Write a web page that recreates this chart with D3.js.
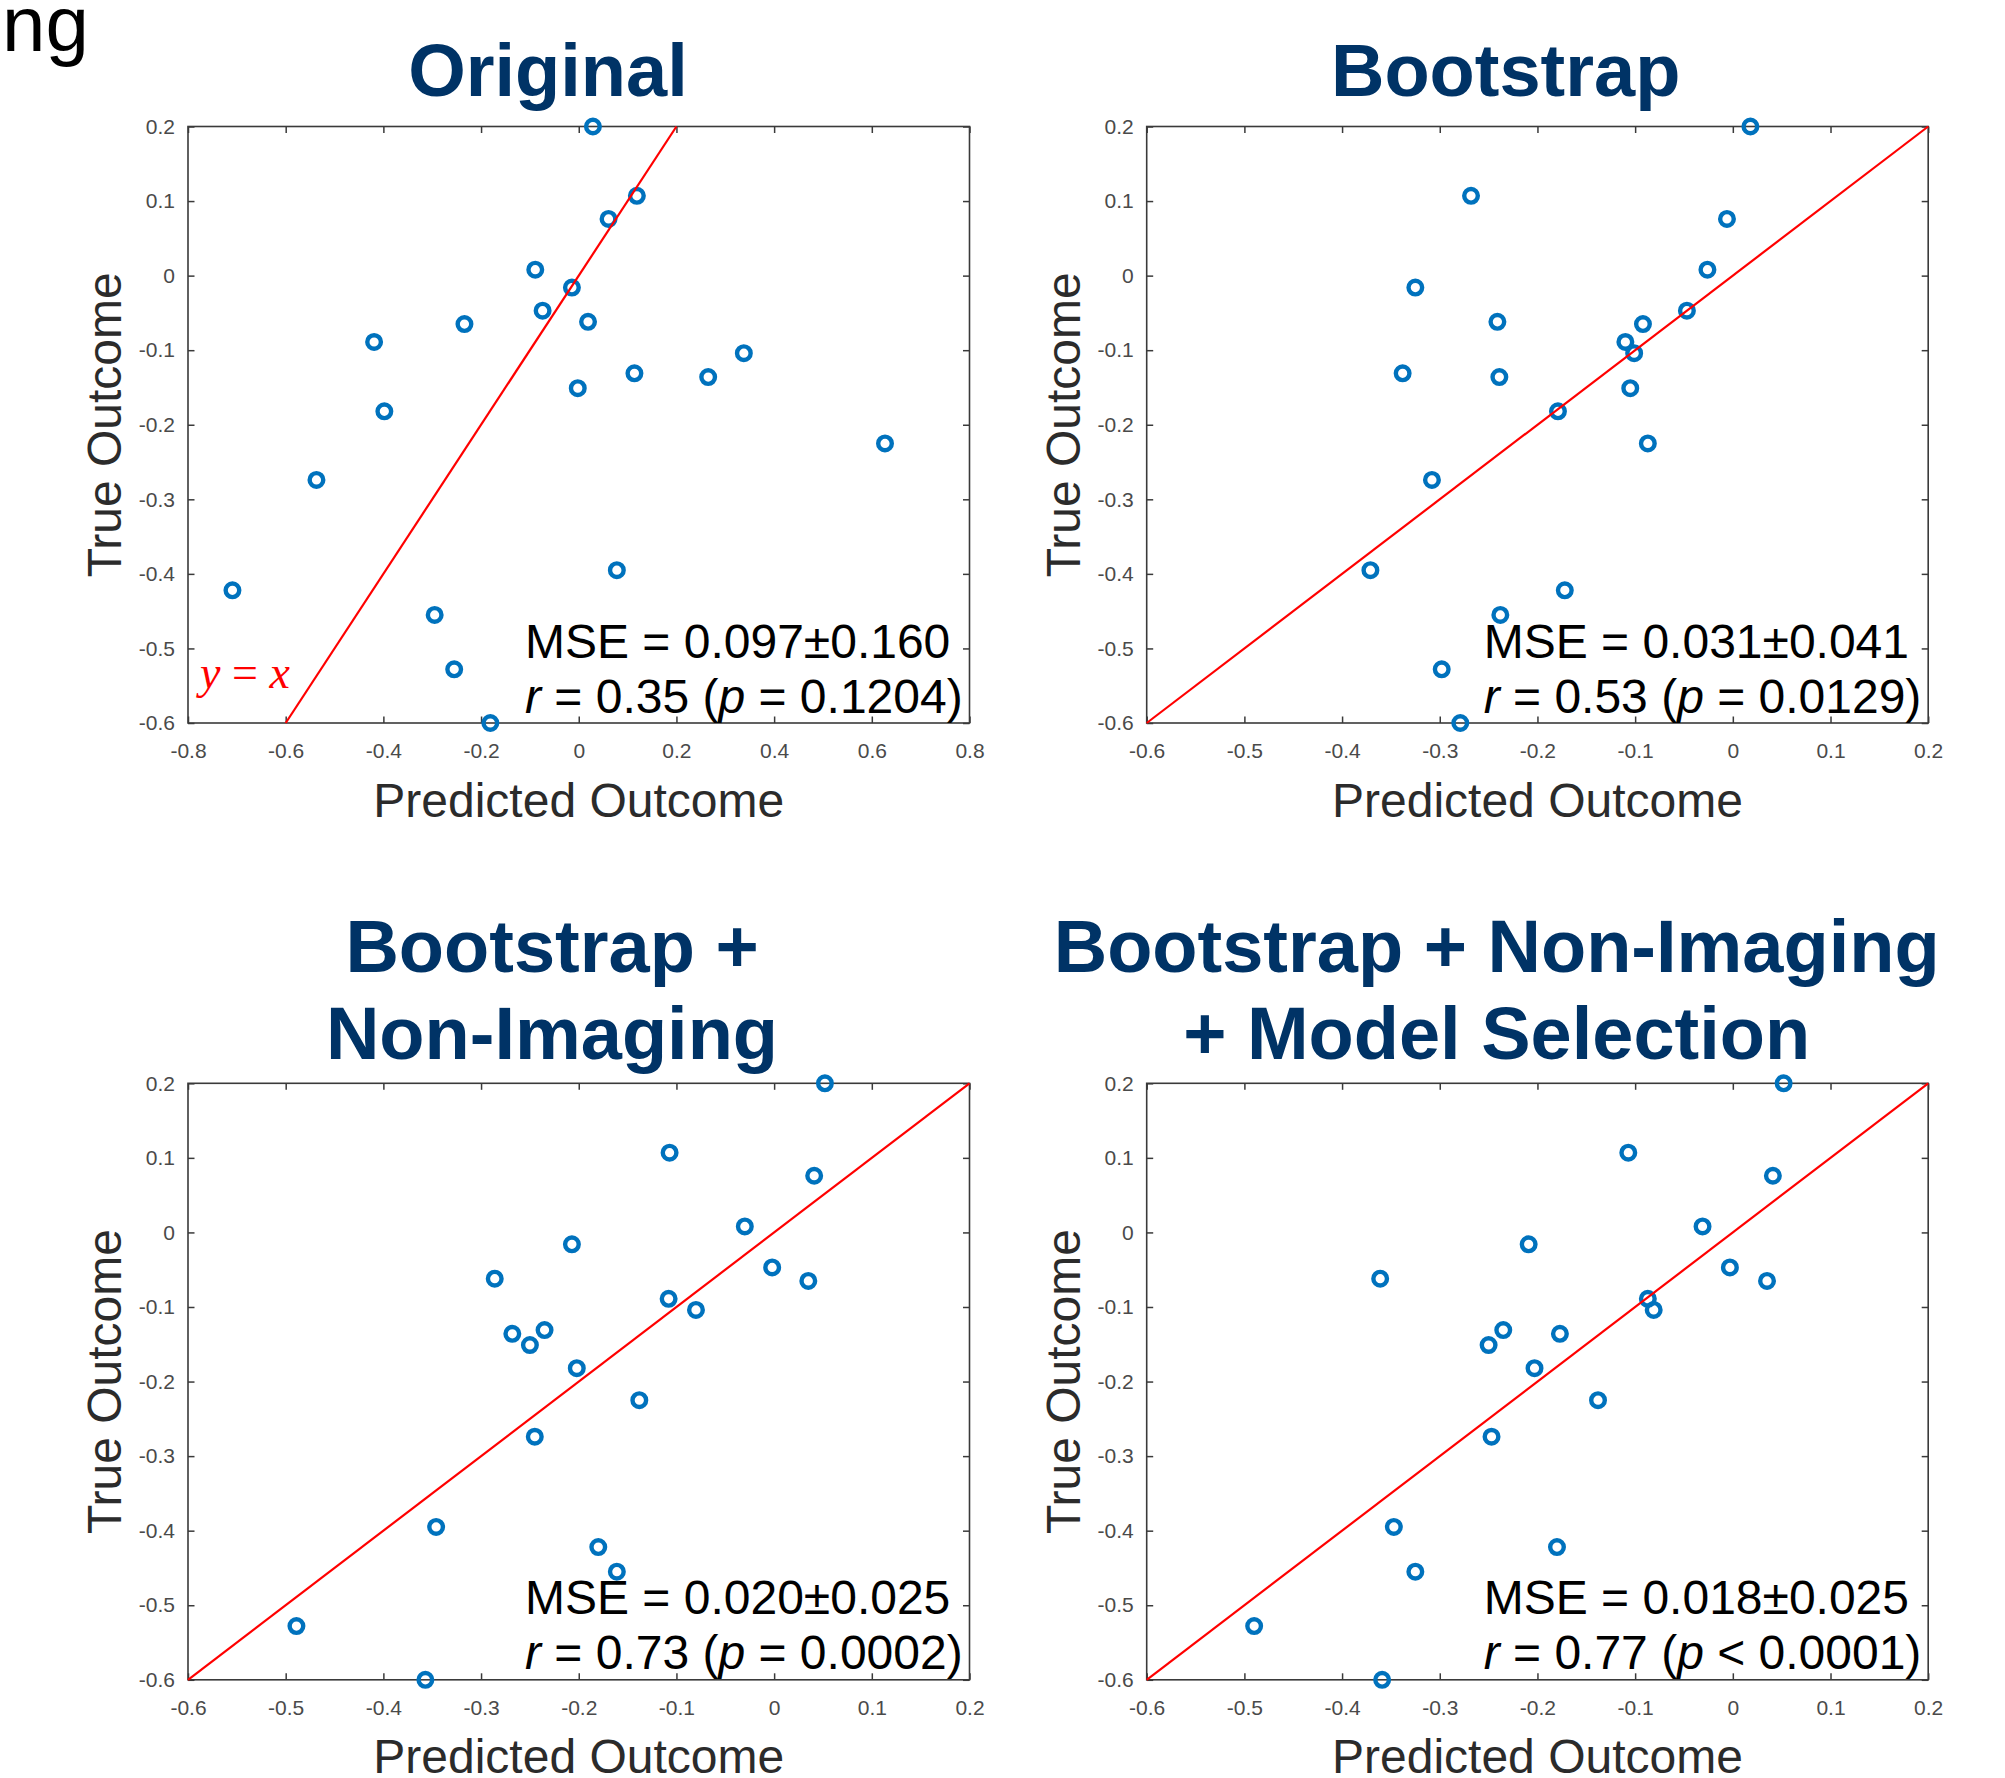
<!DOCTYPE html>
<html>
<head>
<meta charset="utf-8">
<script src="https://cdn.jsdelivr.net/npm/d3@7"></script>
<style>
  body { margin: 0; background: #fff; }
  svg { display: block; }
</style>
</head>
<body>
<svg id="chart"></svg>
<script>
// true outcome for each subject, shared by the four panels
const trueOutcome = [0.2, 0.107, 0.076, 0.008, -0.016, -0.047, -0.062, -0.065, -0.089, -0.104,
  -0.131, -0.136, -0.151, -0.182, -0.225, -0.274, -0.395, -0.422, -0.455, -0.528, -0.6];

// predicted outcome, same subject order
const predOriginal = [0.029, 0.119, 0.061, -0.089, -0.014, -0.074, 0.019, -0.234, -0.419, 0.338,
  0.114, 0.265, -0.002, -0.398, 0.627, -0.537, 0.078, -0.709, -0.295, -0.255, -0.181];
const predBootstrap = [0.018, -0.268, -0.006, -0.026, -0.325, -0.047, -0.241, -0.092, -0.110, -0.101,
  -0.338, -0.239, -0.105, -0.179, -0.087, -0.308, -0.371, -0.172, -0.238, -0.298, -0.279];
const predNonImaging = [0.052, -0.107, 0.041, -0.030, -0.207, -0.002, -0.286, 0.035, -0.108, -0.080,
  -0.235, -0.268, -0.250, -0.202, -0.138, -0.245, -0.346, -0.180, -0.161, -0.489, -0.357];
const predModelSel = [0.052, -0.107, 0.041, -0.031, -0.209, -0.003, -0.361, 0.035, -0.087, -0.081,
  -0.235, -0.177, -0.250, -0.203, -0.138, -0.247, -0.347, -0.180, -0.325, -0.490, -0.359];

const xTicksWide = [-0.8, -0.6, -0.4, -0.2, 0, 0.2, 0.4, 0.6, 0.8];
const xTicks = [-0.6, -0.5, -0.4, -0.3, -0.2, -0.1, 0, 0.1, 0.2];
const yTicks = [-0.6, -0.5, -0.4, -0.3, -0.2, -0.1, 0, 0.1, 0.2];
const yxLine = [-0.6, 0.2];

const titles = [["Original"], ["Bootstrap"], ["Bootstrap +", "Non-Imaging"],
  ["Bootstrap + Non-Imaging", "+ Model Selection"]];
const mseLabels = ["0.097±0.160", "0.031±0.041", "0.020±0.025", "0.018±0.025"];
const rLabels = ["0.35", "0.53", "0.73", "0.77"];
const pLabels = ["= 0.1204", "= 0.0129", "= 0.0002", "< 0.0001"];

const width = 2005, height = 1778;
const W = 781.5, H = 596.5;
const sans = "'Liberation Sans', Arial, sans-serif";

const svg = d3.select('#chart').attr('width', width).attr('height', height);

// cut-off label from the figure above
svg.append('text')
  .attr('x', 2).attr('y', 51)
  .style('font-family', sans).style('font-size', '78px').attr('fill', '#000')
  .text('ng');

const panels = [
  { title: titles[0], pred: predOriginal, xDomain: [-0.8, 0.8], xt: xTicksWide, left: 188, top: 126.5, titleX: 360, titleY: [96], yx: true },
  { title: titles[1], pred: predBootstrap, xDomain: [-0.6, 0.2], xt: xTicks, left: 1146.7, top: 126.5, titleX: 359, titleY: [96], yx: false },
  { title: titles[2], pred: predNonImaging, xDomain: [-0.6, 0.2], xt: xTicks, left: 188, top: 1083.3, titleX: 364, titleY: [971.7, 1059.3], yx: false },
  { title: titles[3], pred: predModelSel, xDomain: [-0.6, 0.2], xt: xTicks, left: 1146.7, top: 1083.3, titleX: 350, titleY: [971.7, 1059.3], yx: false }
];

panels.forEach((p, i) => {
  const x = d3.scaleLinear().domain(p.xDomain).range([0, W]);
  const y = d3.scaleLinear().domain([-0.6, 0.2]).range([H, 0]);
  const fmt = d => String(d);

  // title
  p.title.forEach((line, k) => {
    svg.append('text')
      .attr('x', p.left + p.titleX).attr('y', p.titleY[k])
      .attr('text-anchor', 'middle')
      .style('font-family', sans).style('font-size', '74px').style('font-weight', 'bold')
      .attr('fill', '#003366')
      .text(line);
  });

  const g = svg.append('g').attr('transform', `translate(${p.left},${p.top})`);

  // axes, ticks pointing inwards like matlab
  const tk = 6.5;
  g.append('g').attr('class', 'ax').attr('transform', `translate(0,${H})`)
    .call(d3.axisBottom(x).tickValues(p.xt).tickFormat(fmt).tickSizeInner(-tk).tickSizeOuter(0).tickPadding(20));
  g.append('g').attr('class', 'ax')
    .call(d3.axisTop(x).tickValues(p.xt).tickFormat('').tickSizeInner(-tk).tickSizeOuter(0));
  g.append('g').attr('class', 'ax')
    .call(d3.axisLeft(y).tickValues(yTicks).tickFormat(fmt).tickSizeInner(-tk).tickSizeOuter(0).tickPadding(13));
  g.append('g').attr('class', 'ax').attr('transform', `translate(${W},0)`)
    .call(d3.axisRight(y).tickValues(yTicks).tickFormat('').tickSizeInner(-tk).tickSizeOuter(0));

  g.selectAll('.ax .domain').remove();
  g.selectAll('.ax .tick line').attr('stroke', '#3a3a3a').attr('stroke-width', 1.5);
  g.selectAll('.ax .tick text')
    .style('font-family', sans).style('font-size', '21px').attr('fill', '#4a4a4a');

  g.append('rect')
    .attr('width', W).attr('height', H)
    .attr('fill', 'none').attr('stroke', '#3a3a3a').attr('stroke-width', 1.6);

  // points
  g.selectAll('circle.pt')
    .data(p.pred.map((v, j) => [v, trueOutcome[j]]))
    .join('circle')
    .attr('class', 'pt')
    .attr('cx', d => x(d[0])).attr('cy', d => y(d[1]))
    .attr('r', 6.8)
    .attr('fill', 'none').attr('stroke', '#0072BD').attr('stroke-width', 4.4);

  // identity line
  g.append('path')
    .datum(yxLine)
    .attr('d', d3.line().x(d => x(d)).y(d => y(d)))
    .attr('fill', 'none').attr('stroke', '#ff0000').attr('stroke-width', 2.2);

  if (p.yx) {
    const t = g.append('text')
      .attr('x', 12).attr('y', 561.5)
      .style('font-family', "'Liberation Serif', 'Times New Roman', serif").style('font-size', '46px')
      .attr('fill', '#ff0000');
    t.append('tspan').style('font-style', 'italic').text('y');
    t.append('tspan').text(' = ');
    t.append('tspan').style('font-style', 'italic').text('x');
  }

  // axis labels
  g.append('text')
    .attr('x', W / 2).attr('y', 690)
    .attr('text-anchor', 'middle')
    .style('font-family', sans).style('font-size', '48px').attr('fill', '#2b2b2b')
    .text('Predicted Outcome');
  g.append('text')
    .attr('transform', `translate(-67,${H / 2}) rotate(-90)`)
    .attr('text-anchor', 'middle')
    .style('font-family', sans).style('font-size', '48px').attr('fill', '#2b2b2b')
    .text('True Outcome');

  // stats
  g.append('text')
    .attr('x', 337).attr('y', 531)
    .style('font-family', sans).style('font-size', '48px').attr('fill', '#000')
    .text('MSE = ' + mseLabels[i]);
  const s = g.append('text')
    .attr('x', 337).attr('y', 586)
    .style('font-family', sans).style('font-size', '48px').attr('fill', '#000');
  s.append('tspan').style('font-style', 'italic').text('r');
  s.append('tspan').text(' = ' + rLabels[i] + ' (');
  s.append('tspan').style('font-style', 'italic').text('p');
  s.append('tspan').text(' ' + pLabels[i] + ')');
});
</script>
</body>
</html>
